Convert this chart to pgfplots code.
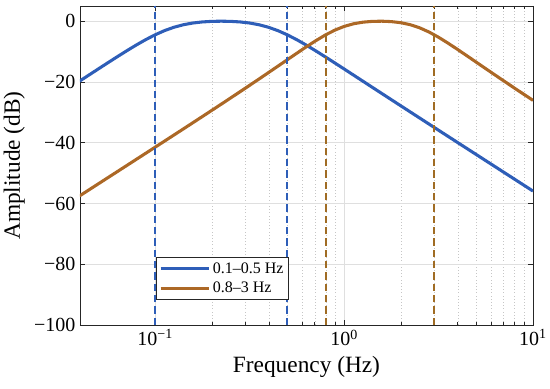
\documentclass[border=0pt]{standalone}
\usepackage{fontspec}
\setmainfont{Liberation Serif}
\usepackage{pgfplots}
\pgfplotsset{compat=1.18}
\definecolor{cblue}{RGB}{46,94,184}
\definecolor{cbrown}{RGB}{172,104,38}
\definecolor{dbrown}{RGB}{160,108,36}
\definecolor{axgray}{RGB}{38,38,38}
\begin{document}
\begin{tikzpicture}
\begin{axis}[
  name=ax,
  scale only axis,
  width=339.75pt, height=239.25pt,
  xmode=log,
  xmin=0.04, xmax=10,
  ymin=-100, ymax=5,
  xtick={0.1,1,10},
  xticklabels={10\textsuperscript{−1},10\textsuperscript{0},10\textsuperscript{1}},
  ytick={-100,-80,-60,-40,-20,0},
  yticklabels={−100,−80,−60,−40,−20,0},
  tick align=inside,
  major tick length=3.75pt,
  minor tick length=2.2pt,
  every tick/.style={axgray, line width=0.5pt},
  axis line style={axgray, line width=0.6pt},
  xmajorgrids, ymajorgrids, xminorgrids,
  major grid style={gray!25, line width=0.5pt, solid},
  minor grid style={gray!45, line width=0.4pt, dotted},
  tick label style={font=\fontsize{15}{17}\selectfont},
  xlabel={Frequency (Hz)},
  ylabel={Amplitude (dB)},
  label style={font=\fontsize{17.5}{20}\selectfont},
  xlabel style={yshift=-1pt},
  legend style={at={(0.168,0.078)}, anchor=south west, draw=axgray, line width=0.6pt,
    font=\fontsize{12}{14}\selectfont, inner sep=2pt, row sep=1pt},
  legend cell align=left,
  legend image code/.code={\draw[#1] (0pt,0pt) -- (36pt,0pt);},
]
\addplot[cblue, line width=2.3pt] coordinates {
(0.039811,-19.724) (0.044668,-17.700) (0.050119,-15.678) (0.056234,-13.668)
(0.063096,-11.677) (0.070795,-9.726) (0.079433,-7.844) (0.089125,-6.075)
(0.1,-4.472) (0.112202,-3.093) (0.125893,-1.985) (0.141254,-1.160)
(0.158489,-0.595) (0.177828,-0.245) (0.199526,-0.057) (0.223872,0)
(0.251189,-0.060) (0.281838,-0.250) (0.316228,-0.605) (0.354813,-1.175)
(0.398107,-2.005) (0.446684,-3.119) (0.501187,-4.503) (0.562341,-6.110)
(0.630957,-7.882) (0.707946,-9.766) (0.794328,-11.718) (0.891251,-13.709)
(1,-15.720) (1.122018,-17.742) (1.258925,-19.766) (1.412538,-21.789)
(1.584893,-23.811) (1.778279,-25.830) (1.995262,-27.846) (2.238721,-29.860)
(2.511886,-31.871) (2.818383,-33.880) (3.162278,-35.887) (3.548134,-37.894)
(3.981072,-39.898) (4.466836,-41.902) (5.011872,-43.905) (5.623413,-45.908)
(6.309573,-47.910) (7.079458,-49.912) (7.943282,-51.913) (8.912509,-53.914)
(10,-55.914)
};
\addlegendentry{0.1–0.5 Hz}
\addplot[cbrown, line width=2.3pt] coordinates {
(0.039811,-57.505) (0.044668,-55.503) (0.050119,-53.500) (0.056234,-51.497)
(0.063096,-49.495) (0.070795,-47.490) (0.079433,-45.485) (0.089125,-43.477)
(0.1,-41.469) (0.112202,-39.456) (0.125893,-37.443) (0.141254,-35.427)
(0.158489,-33.405) (0.177828,-31.378) (0.199526,-29.345) (0.223872,-27.303)
(0.251189,-25.252) (0.281838,-23.188) (0.316228,-21.113) (0.354813,-19.021)
(0.398107,-16.914) (0.446684,-14.793) (0.501187,-12.663) (0.562341,-10.538)
(0.630957,-8.445) (0.707946,-6.433) (0.794328,-4.579) (0.891251,-2.980)
(1,-1.726) (1.122018,-0.852) (1.258925,-0.321) (1.412538,-0.060)
(1.584893,-0.004) (1.778279,-0.136) (1.995262,-0.495) (2.238721,-1.153)
(2.511886,-2.177) (2.818383,-3.576) (3.162278,-5.288) (3.548134,-7.215)
(3.981072,-9.267) (4.466836,-11.377) (5.011872,-13.507) (5.623413,-15.634)
(6.309573,-17.750) (7.079458,-19.851) (7.943282,-21.936) (8.912509,-24.007)
(10,-26.065)
};
\addlegendentry{0.8–3 Hz}
\addplot[cblue, line width=1.1pt, dash pattern=on 5.5pt off 3pt, forget plot] coordinates {(0.1,-100) (0.1,5)};
\addplot[cblue, line width=1.1pt, dash pattern=on 5.5pt off 3pt, forget plot] coordinates {(0.5,-100) (0.5,5)};
\addplot[dbrown, line width=1.1pt, dash pattern=on 5.5pt off 3pt, forget plot] coordinates {(0.8,-100) (0.8,5)};
\addplot[dbrown, line width=1.1pt, dash pattern=on 5.5pt off 3pt, forget plot] coordinates {(3,-100) (3,5)};
\end{axis}
\pgfresetboundingbox
\path ([xshift=-60pt,yshift=-48pt]ax.south west) rectangle ([xshift=12.75pt,yshift=4.5pt]ax.north east);
\end{tikzpicture}
\end{document}
